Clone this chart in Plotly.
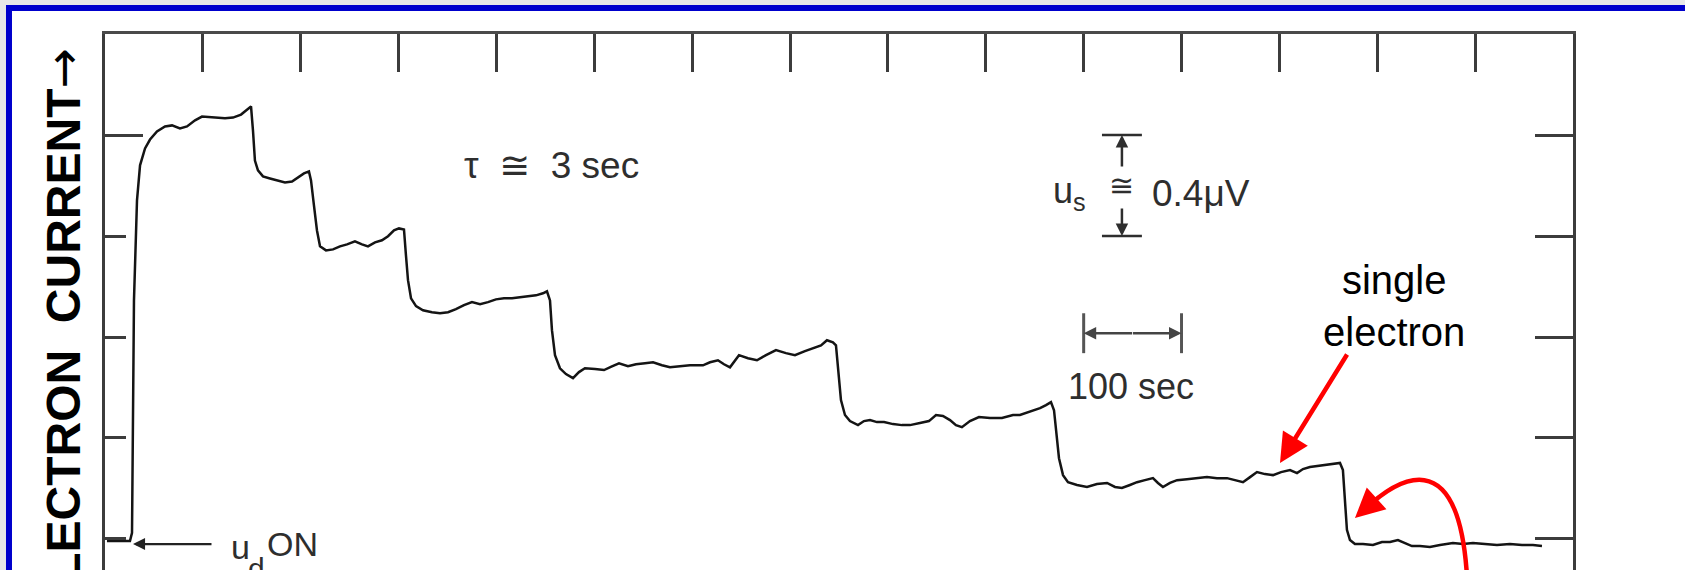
import plotly.graph_objects as go

# Chart-recorder trace: time in seconds, detector signal in microvolts
# (0 = level of the empty trap).
time_s = [2, 25.5, 27.6, 29.6, 32.7, 35.8, 40.9, 46.0, 53.1, 61.3, 68.5, 76.6, 83.8, 92.0, 99.1,
          112.4, 122.6, 130.8, 139.0, 144.1, 149.2, 151.2, 153.2, 156.3, 161.4, 168.6, 176.8,
          183.9, 191.1, 197.2, 203.3, 208.4, 210.5, 213.5, 216.6, 219.7, 225.8, 233.0, 240.1,
          247.3, 255.4, 262.6, 268.7, 275.9, 283.0, 289.2, 295.3, 300.4, 305.5, 307.5, 309.6,
          312.7, 317.8, 324.9, 334.1, 342.3, 350.5, 358.6, 366.8, 375.0, 383.2, 391.3, 399.5,
          407.7, 415.9, 424.0, 432.2, 440.4, 447.5, 451.6, 454.7, 456.7, 459.8, 464.9, 471.0,
          478.2, 484.3, 490.4, 500.7, 509.9, 518.0, 525.2, 534.4, 542.6, 551.8, 560.0, 569.1,
          577.3, 587.5, 597.7, 611.0, 618.2, 626.3, 632.5, 638.6, 643.7, 647.8, 657.0, 666.2,
          675.4, 685.6, 695.8, 705.0, 715.2, 724.4, 731.6, 737.7, 743.8, 746.9, 748.9, 752.0,
          756.1, 761.2, 769.4, 775.5, 781.7, 788.8, 796.0, 805.2, 814.3, 822.5, 832.7, 841.9,
          849.1, 856.2, 863.4, 869.5, 875.6, 883.8, 893.0, 904.3, 916.5, 927.8, 934.9, 940.0,
          947.2, 955.4, 961.5, 966.6, 969.7, 971.7, 974.8, 978.9, 984.0, 993.2, 1003.4, 1013.6,
          1023.9, 1032.0, 1039.1, 1047.3, 1054.5, 1062.6, 1070.8, 1075.9, 1081.0, 1088.2,
          1095.4, 1105.6, 1115.8, 1126.0, 1136.2, 1146.5, 1154.6, 1162.8, 1170.0, 1177.1,
          1185.3, 1193.5, 1201.7, 1210.8, 1218.0, 1224.1, 1231.2, 1239.4, 1248.6, 1255.7,
          1261.9, 1264.9, 1267.0, 1269.0, 1272.1, 1277.2, 1285.4, 1295.6, 1304.8, 1313.0,
          1321.1, 1328.3, 1335.4, 1343.6, 1353.8, 1364.1, 1377.3, 1387.6, 1397.8, 1410.0,
          1422.3, 1435.6, 1447.9, 1459.1, 1468.3]

signal_uv = [-0.008, -0.008, 0.024, 0.945, 1.341, 1.480, 1.547, 1.582, 1.614, 1.634, 1.638, 1.626,
             1.634, 1.658, 1.673, 1.669, 1.666, 1.669, 1.681, 1.697, 1.713, 1.618, 1.499, 1.460,
             1.436, 1.428, 1.420, 1.412, 1.416, 1.432, 1.448, 1.456, 1.420, 1.321, 1.222, 1.159,
             1.143, 1.147, 1.159, 1.167, 1.179, 1.167, 1.159, 1.175, 1.183, 1.199, 1.222, 1.230,
             1.226, 1.124, 1.025, 0.953, 0.922, 0.906, 0.898, 0.894, 0.898, 0.910, 0.926, 0.938,
             0.930, 0.938, 0.949, 0.953, 0.953, 0.957, 0.961, 0.965, 0.973, 0.981, 0.945, 0.827,
             0.728, 0.676, 0.653, 0.637, 0.661, 0.676, 0.673, 0.669, 0.684, 0.696, 0.684, 0.692,
             0.696, 0.700, 0.688, 0.680, 0.684, 0.688, 0.688, 0.700, 0.708, 0.692, 0.680, 0.708,
             0.728, 0.716, 0.708, 0.728, 0.748, 0.736, 0.728, 0.744, 0.756, 0.767, 0.787, 0.779,
             0.767, 0.669, 0.550, 0.491, 0.467, 0.451, 0.467, 0.471, 0.463, 0.463, 0.455, 0.451,
             0.451, 0.459, 0.467, 0.491, 0.487, 0.471, 0.451, 0.443, 0.467, 0.483, 0.479, 0.479,
             0.491, 0.491, 0.498, 0.506, 0.518, 0.530, 0.542, 0.510, 0.431, 0.320, 0.253, 0.225,
             0.214, 0.206, 0.218, 0.222, 0.206, 0.202, 0.214, 0.225, 0.233, 0.241, 0.222, 0.206,
             0.222, 0.233, 0.237, 0.241, 0.245, 0.241, 0.241, 0.233, 0.225, 0.245, 0.265, 0.257,
             0.253, 0.265, 0.273, 0.261, 0.277, 0.285, 0.289, 0.293, 0.297, 0.301, 0.273, 0.154,
             0.036, -0.004, -0.020, -0.020, -0.024, -0.012, -0.012, -0.004, -0.016, -0.028,
             -0.028, -0.032, -0.024, -0.016, -0.020, -0.016, -0.020, -0.024, -0.020, -0.024,
             -0.024, -0.028]

time_ticks = list(range(100, 1500, 100))
level_ticks = [0.0, 0.4, 0.8, 1.2, 1.6]

X_RANGE = [0, 1500]
Y_RANGE = [-0.1228, 2.0]

INK = "#2e2e2e"
FRAME = "#3c3c3c"
SCAN_FONT = "Liberation Sans, Arial, DejaVu Sans, sans-serif"
NBSP = "\u00a0"

fig = go.Figure()

fig.add_trace(go.Scatter(
    x=time_s, y=signal_uv, mode="lines",
    line=dict(color="#141414", width=2.5),
    hoverinfo="skip", showlegend=False,
))
# placeholders so the right-hand and extra left axes are laid out
fig.add_trace(go.Scatter(x=[None], y=[None], yaxis="y2", showlegend=False))
fig.add_trace(go.Scatter(x=[None], y=[None], yaxis="y3", showlegend=False))

axis_common = dict(showgrid=False, zeroline=False, showticklabels=False,
                   ticks="inside", tickcolor=FRAME, tickwidth=2.5, automargin=False)

fig.update_layout(
    template="none",
    width=1685, height=570,
    margin=dict(l=105, r=112, t=34, b=0, pad=0),
    paper_bgcolor="#e8e8e8",
    plot_bgcolor="white",
    showlegend=False,
    xaxis=dict(range=X_RANGE, side="top", tickvals=time_ticks, ticklen=38,
               showline=True, linecolor="#4a4a4a", linewidth=2.5, **axis_common),
    yaxis=dict(range=Y_RANGE, tickvals=level_ticks, ticklen=21,
               showline=True, linecolor=FRAME, linewidth=2.5, **axis_common),
    yaxis2=dict(range=Y_RANGE, overlaying="y", side="right", tickvals=level_ticks,
                ticklen=38, showline=True, linecolor=FRAME, linewidth=2.5, **axis_common),
    yaxis3=dict(range=Y_RANGE, overlaying="y", side="left", tickvals=[1.6],
                ticklen=38, showline=False, **axis_common),
)

shapes = []
# page: white panel with a blue border
shapes.append(dict(type="rect", xref="paper", yref="paper",
                   x0=-0.0654, x1=1.12, y0=-0.2, y1=1.0485,
                   line=dict(color="#0000cc", width=6), fillcolor="white", layer="below"))

# u_s calibration bar caps (1.2 .. 1.6 µV)
us_x = 1039.1
for lvl in (1.2, 1.6):
    shapes.append(dict(type="line", xref="x", yref="y", x0=us_x - 20.4, x1=us_x + 20.4,
                       y0=lvl, y1=lvl, line=dict(color=INK, width=2.5)))
# 100 s time bar caps
bar_y = 0.815
for t in (1000, 1100):
    shapes.append(dict(type="line", xref="x", yref="y", x0=t, x1=t,
                       y0=bar_y - 0.079, y1=bar_y + 0.079, line=dict(color="#555", width=3)))

# curved red pointer to the last step
shapes.append(dict(type="path", xref="x", yref="y",
                   path="M 1391.6,-0.142 C 1382.5,0.392 1320.1,0.241 1284.3,0.107",
                   line=dict(color="#ff0000", width=4.5)))
fig.update_layout(shapes=shapes)

ann = []
# y-axis title
ann.append(dict(xref="paper", yref="paper", x=-0.0286, y=0.978, xanchor="center", yanchor="top",
                text=("<b>ELECTRON" + NBSP + NBSP + "CURRENT</b>"
                      "<span style='font-family:DejaVu Sans'>\u2192</span>"),
                textangle=-90, showarrow=False,
                font=dict(family="Liberation Sans, Arial, sans-serif", size=48, color="black")))
# time constant
ann.append(dict(x=456, y=1.478, text="\u03c4" + NBSP + " \u2245" + NBSP + " 3 sec", showarrow=False,
                font=dict(family=SCAN_FONT, size=37, color=INK)))
# signal calibration
ann.append(dict(x=1004.6, y=1.37, xanchor="right", text="u<sub>s</sub>", showarrow=False,
                font=dict(family=SCAN_FONT, size=36, color=INK)))
ann.append(dict(x=us_x, y=1.40, text="\u2245", showarrow=False,
                font=dict(family=SCAN_FONT, size=30, color=INK)))
ann.append(dict(x=1067.7, y=1.37, xanchor="left", text="0.4\u03bcV", showarrow=False,
                font=dict(family=SCAN_FONT, size=37, color=INK)))
ann.append(dict(x=us_x, y=1.6, ax=0, ay=33, text="", showarrow=True, arrowhead=2,
                arrowsize=1, arrowwidth=2.5, arrowcolor=INK))
ann.append(dict(x=us_x, y=1.2, ax=0, ay=-29, text="", showarrow=True, arrowhead=2,
                arrowsize=1, arrowwidth=2.5, arrowcolor=INK))
# time calibration
ann.append(dict(x=1000, y=bar_y, ax=50, ay=0, text="", showarrow=True, arrowhead=2,
                arrowsize=1, arrowwidth=2.5, arrowcolor="#444"))
ann.append(dict(x=1100, y=bar_y, ax=-50, ay=0, text="", showarrow=True, arrowhead=2,
                arrowsize=1, arrowwidth=2.5, arrowcolor="#444"))
ann.append(dict(x=1048, y=0.605, text="100 sec", showarrow=False,
                font=dict(family=SCAN_FONT, size=36, color=INK)))
# drive switched on
ann.append(dict(x=28.6, y=-0.02, ax=80, ay=0, text="", showarrow=True, arrowhead=2,
                arrowsize=1.1, arrowwidth=2.2, arrowcolor="#222"))
ann.append(dict(x=126.7, y=-0.033, xanchor="left", text="u", showarrow=False,
                font=dict(family=SCAN_FONT, size=34, color=INK)))
ann.append(dict(x=144.0, y=-0.117, xanchor="left", text="d", showarrow=False,
                font=dict(family=SCAN_FONT, size=30, color=INK)))
ann.append(dict(x=163.0, y=-0.019, xanchor="left", text="ON", showarrow=False,
                font=dict(family=SCAN_FONT, size=34, color=INK)))
# single electron callout
ann.append(dict(x=1317, y=0.922, text="single<br>electron", showarrow=False,
                font=dict(family="Liberation Sans, Arial, sans-serif", size=40, color="black")))
ann.append(dict(x=1200.6, y=0.301, ax=68, ay=-110, text="", showarrow=True, arrowhead=2,
                arrowsize=1.3, arrowwidth=4.5, arrowcolor="#ff0000"))
ann.append(dict(x=1277.2, y=0.083, ax=22, ay=-20, text="", showarrow=True, arrowhead=2,
                arrowsize=1.3, arrowwidth=4.5, arrowcolor="#ff0000"))
fig.update_layout(annotations=ann)

fig.write_html("out.html")
